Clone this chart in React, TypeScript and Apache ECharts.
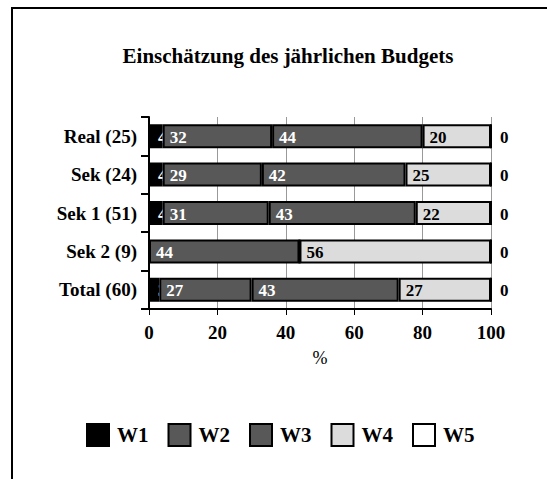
import React, { useEffect, useRef } from "react";
import * as echarts from "echarts";

const categories = ["Real (25)", "Sek (24)", "Sek 1 (51)", "Sek 2 (9)", "Total (60)"];
const seriesNames = ["W1", "W2", "W3", "W4", "W5"];
const w1 = [4, 4, 4, 0, 3];
const w2 = [32, 29, 31, 44, 27];
const w3 = [44, 42, 43, 0, 43];
const w4 = [20, 25, 22, 56, 27];
const w5 = [0, 0, 0, 0, 0];
const xTicks = [0, 20, 40, 60, 80, 100];

const FONT = "Liberation Serif";

export default function App() {
  const ref = useRef<HTMLDivElement>(null);
  useEffect(() => {
    if (!ref.current) return;
    const chart = echarts.init(ref.current, null, { renderer: "svg" });
    const data = [w1, w2, w3, w4, w5];
    const fills = ["#000000", "#585858", "#585858", "#dcdcdc", "#ffffff"];
    const labelColors = ["#ffffff", "#ffffff", "#ffffff", "#000000", "#000000"];
    const series = seriesNames.map((name, i) => ({
      name,
      type: "bar",
      stack: "total",
      z: 2 + i,
      barWidth: 24,
      data: data[i],
      itemStyle: { color: fills[i], borderColor: "#000", borderWidth: 2 },
      label: {
        show: true,
        position: i === 4 ? "right" : "insideLeft",
        distance: i === 0 ? 9 : i === 4 ? 8 : 7,
        offset: [0, 1],
        color: labelColors[i],
        fontFamily: FONT,
        fontWeight: "bold",
        fontSize: 17,
        formatter: (p: any) => (i === 4 ? String(p.value) : p.value === 0 ? "" : String(p.value)),
      },
    }));
    chart.setOption({
      animation: false,
      backgroundColor: "#ffffff",
      graphic: [
        {
          type: "rect",
          shape: { x: 12, y: 8, width: 700, height: 700 },
          style: { fill: "none", stroke: "#000", lineWidth: 2 },
          silent: true,
        },
        {
          type: "text",
          x: 288,
          y: 56,
          style: {
            text: "Einschätzung des jährlichen Budgets",
            fontFamily: FONT,
            fontWeight: "bold",
            fontSize: 21,
            fill: "#000",
            align: "center",
            verticalAlign: "middle",
          },
        },
      ],
      grid: { left: 149, right: 56, top: 117, bottom: 170, containLabel: false },
      xAxis: {
        type: "value",
        min: xTicks[0],
        max: xTicks[xTicks.length - 1],
        interval: 20,
        name: "%",
        nameLocation: "middle",
        nameGap: 40,
        nameTextStyle: { fontFamily: FONT, fontSize: 18, color: "#000000" },
        axisLine: { show: true, lineStyle: { color: "#000", width: 2 } },
        axisTick: { show: true, length: 6, lineStyle: { color: "#000", width: 1 } },
        axisLabel: { fontFamily: FONT, fontWeight: "bold", fontSize: 19, color: "#000", margin: 14 },
        splitLine: { show: true, lineStyle: { color: "#999", width: 1 } },
      },
      yAxis: {
        type: "category",
        inverse: true,
        data: categories,
        axisLine: { show: true, lineStyle: { color: "#000", width: 2 } },
        axisTick: { show: true, length: 8, lineStyle: { color: "#000", width: 2 } },
        axisLabel: { fontFamily: FONT, fontWeight: "bold", fontSize: 19, color: "#000", margin: 12 },
      },
      legend: {
        data: seriesNames,
        left: 81,
        top: 418,
        icon: "rect",
        itemWidth: 22,
        itemHeight: 22,
        itemGap: 19,
        textStyle: { fontFamily: FONT, fontWeight: "bold", fontSize: 21, color: "#000", padding: [6, 0, 0, 3] },
      },
      series,
    });
    return () => chart.dispose();
  }, []);
  return <div ref={ref} style={{ position: "fixed", left: 0, top: 0, width: 547, height: 479 }} />;
}
